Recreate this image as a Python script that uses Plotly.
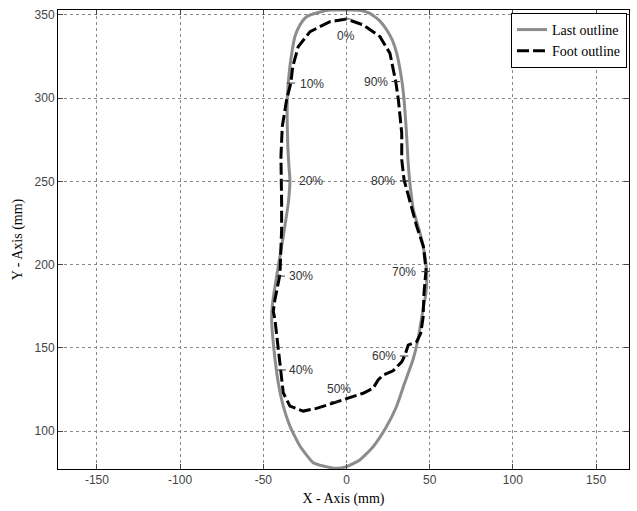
import plotly.graph_objects as go

# Last outline (gray, solid)
last_x = [0, -10, -17, -24, -28, -31, -33.5, -35, -35.6, -35.4, -34.6, -34, -35, -38, -41, -43.6, -44.6, -45,
          -43.6, -41, -38, -34, -28, -20, -14, -6, 0, 8, 16, 24, 30, 35, 40, 43, 45, 46.5, 47.8,
          48.2, 47.2, 44.2, 40.2, 38, 37, 36, 34.6, 33.2, 30.2, 27.5, 24.2, 20, 14.1, 8, 2, 0]
last_y = [353, 353, 351.5, 349, 344, 337, 323, 309, 299, 275, 259, 251, 237, 217, 199, 183, 175, 167,
          149, 129, 115, 103, 91, 81, 79, 77.6, 78.6, 82.6, 90.6, 102.6, 114.6, 129, 143, 155, 167, 176, 183,
          195, 205, 219, 233, 250, 262, 280, 299, 311, 327, 335, 341, 346.5, 351, 352.8, 353, 353]

# Foot outline (black, dashed)
foot_x = [0, -9.9, -21.9, -29, -32.3, -33.5, -36, -38.6, -39.4, -39, -39, -39, -39.6, -40, -43, -44,
          -43, -41, -39.6, -38, -34, -26, -18, -10, 0, 10, 16, 19, 22, 28, 33.2, 35.2, 37.1, 42.2,
          44.6, 46.1, 46.2, 46.6, 47.8, 46.2, 42.2, 38.2, 34.6, 33.2, 33.2, 31.2, 29.6, 26.1, 20.1, 10.1, 0]
foot_y = [347.6, 346, 340, 331, 319, 309, 299, 283, 265, 251, 237, 221, 207, 194, 179, 172,
          167, 149, 137, 123, 115, 112, 113.6, 116.2, 119.6, 122.7, 125.7, 130.7, 133.6, 136.2, 141.6, 145.7, 151.7, 153.7,
          158.7, 168.7, 173, 183, 197, 211, 223, 237, 251, 263, 279, 299, 310, 327, 337, 344, 347.6]

# Percentage markers along the foot outline
pct_labels = ["0%", "10%", "20%", "30%", "40%", "50%", "60%", "70%", "80%", "90%"]
pct_mx = [0, -33.4, -37, -39.5, -38.9, -6.9, 34.6, 47.6, 34.6, 29.6]
pct_my = [347.6, 309.1, 250.4, 193.1, 136.7, 117.6, 145.1, 195.8, 250.4, 310]
pct_tx = [0, -29, -29.7, -35.8, -35.8, -4.8, 31, 43, 30.3, 26.1]
pct_ty = [337.4, 308.5, 250.4, 193.1, 136.7, 125.2, 145.1, 195.8, 250.4, 309.5]
pct_anchor = ["center", "left", "left", "left", "left", "center", "right", "right", "right", "right"]

x_ticks = [-150, -100, -50, 0, 50, 100, 150]
x_tick_text = ["-150", "-100", "-50", "0", "50", "100", "150"]
y_ticks = [100, 150, 200, 250, 300, 350]
y_tick_text = ["100", "150", "200", "250", "300", "350"]

fig = go.Figure()
fig.add_trace(go.Scatter(x=last_x, y=last_y, mode="lines", name="Last outline",
                         line=dict(color="#8c8c8c", width=3, shape="spline", smoothing=0.5)))
fig.add_trace(go.Scatter(x=foot_x, y=foot_y, mode="lines", name="Foot outline",
                         line=dict(color="black", width=3, dash="12px,4px")))
fig.add_trace(go.Scatter(x=pct_mx, y=pct_my, mode="markers", showlegend=False,
                         marker=dict(symbol="line-ew-open", size=6, color="#333",
                                     line=dict(width=1, color="#333"))))

for lab, tx, ty, anc in zip(pct_labels, pct_tx, pct_ty, pct_anchor):
    fig.add_annotation(x=tx, y=ty, text=lab, showarrow=False, xanchor=anc, yanchor="middle",
                       font=dict(family="Liberation Sans, Arial", size=12, color="#333"))

axis_common = dict(showline=True, linecolor="black", linewidth=1, mirror="ticks",
                   ticks="inside", ticklen=5, tickcolor="#444",
                   showgrid=True, gridcolor="#888", griddash="dot", gridwidth=1,
                   zeroline=False,
                   tickfont=dict(family="Liberation Sans, Arial", size=12, color="#444"))

fig.update_xaxes(range=[-173.4, 169.8], tickvals=x_ticks, ticktext=x_tick_text,
                 title=dict(text="X - Axis (mm)", font=dict(family="Liberation Serif, Times New Roman", size=14, color="black"), standoff=6),
                 **axis_common)
fig.update_yaxes(range=[77.2, 353], tickvals=y_ticks, ticktext=y_tick_text,
                 title=dict(text="Y - Axis (mm)", font=dict(family="Liberation Serif, Times New Roman", size=14, color="black"), standoff=8),
                 **axis_common)

fig.update_layout(
    width=637, height=511,
    margin=dict(l=58, r=8, t=10, b=42),
    paper_bgcolor="white", plot_bgcolor="white",
    legend=dict(x=0.9965, y=0.9935, xanchor="right", yanchor="top",
                bgcolor="white", bordercolor="black", borderwidth=1,
                font=dict(family="Liberation Serif, Times New Roman", size=14, color="black"),
                tracegroupgap=2),
)

fig.write_html("out.html")
